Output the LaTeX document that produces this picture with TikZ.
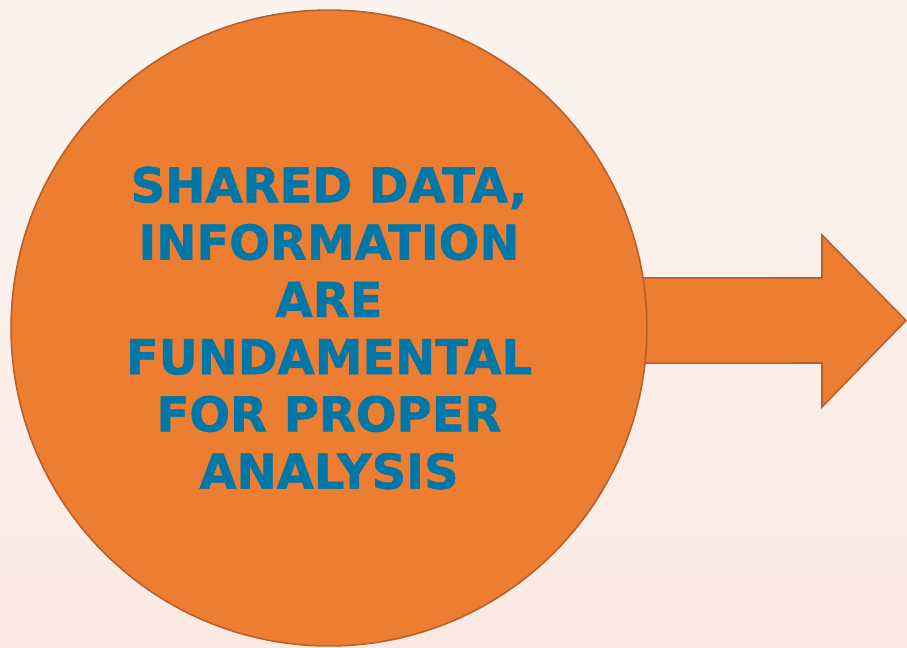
\documentclass[tikz,border=0pt]{standalone}
\usepackage{fontspec}
\setmainfont{DejaVu Sans}[BoldFeatures={FakeBold=1.2}]
\usetikzlibrary{positioning}
\definecolor{bgtop}{HTML}{FAF3F0}
\definecolor{bgbot}{HTML}{FBEAE3}
\definecolor{shapefill}{HTML}{ED7D31}
\definecolor{shapeline}{HTML}{B9602A}
\definecolor{textblue}{HTML}{0077A6}

\begin{document}
\begin{tikzpicture}[x=0.02cm,y=-0.02cm,
  bubble/.style={circle,fill=shapefill,draw=shapeline,line width=0.9pt,
    minimum size=12.72cm,inner sep=0pt,align=center,text=textblue,
    font=\bfseries\fontsize{27.3}{32.6}\selectfont},
  bigarrow/.style={fill=shapefill,draw=shapeline,line width=0.9pt,line join=miter}]

\shade[top color=bgtop,bottom color=bgbot] (0,0) rectangle (907,647);
\useasboundingbox (0,0) rectangle (907,647);

\coordinate (c) at (329,328);
\coordinate (tip) at (906,320.5);

% arrow sits behind the circle
\draw[bigarrow] (c) ++(0,-50.5) -- (822,278) -- (822,235) -- (tip)
  -- (822,407) -- (822,363) -- ([yshift=-0.01cm]c |- 0,363) -- cycle;

\node[bubble] (data) at (c) {SHARED DATA,\\INFORMATION\\ARE\\FUNDAMENTAL\\FOR PROPER\\ANALYSIS};

\end{tikzpicture}
\end{document}
